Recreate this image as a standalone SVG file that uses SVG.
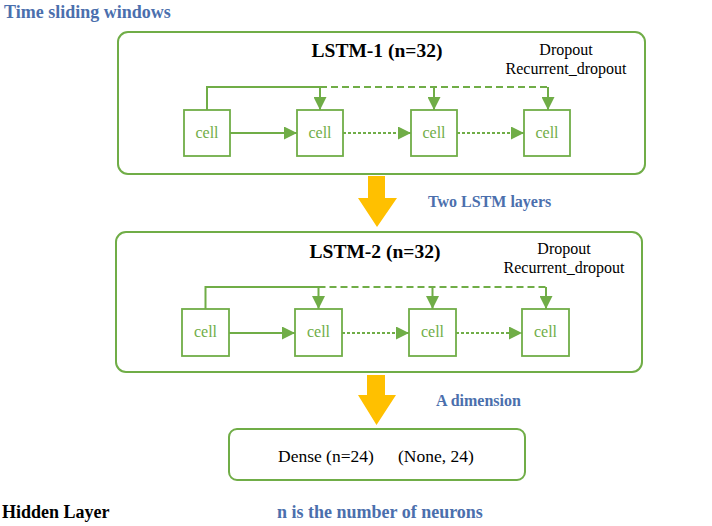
<svg xmlns="http://www.w3.org/2000/svg" width="712" height="526" viewBox="0 0 712 526">
<defs>
<style>
.box{fill:#fff;stroke:#70AD47;stroke-width:2}
.cell rect{fill:#fff;stroke:#70AD47;stroke-width:1.8}
.cell text{font-family:"Liberation Serif",serif;font-size:16px;fill:#70AD47;text-anchor:middle}
.ln{fill:none;stroke:#70AD47;stroke-width:2}
.dash{stroke-dasharray:7,4}
.dot{stroke-dasharray:3,2}
.title{font-family:"Liberation Serif",serif;font-size:19.5px;font-weight:bold;fill:#000;text-anchor:middle}
.note{font-family:"Liberation Serif",serif;font-size:16px;fill:#000;text-anchor:middle}
.blue{font-family:"Liberation Serif",serif;font-weight:bold;fill:#4B6FAD}
.yel{fill:#FFC000}
</style>
<marker id="ah" markerUnits="userSpaceOnUse" markerWidth="13" markerHeight="13" refX="13" refY="6.5" orient="auto" viewBox="0 0 13 13">
<path d="M0,0 L13,6.5 L0,13 z" fill="#70AD47"/>
</marker>
</defs>
<rect width="712" height="526" fill="#fff"/>

<text class="blue" x="4" y="18" font-size="18">Time sliding windows</text>

<g id="lstm1">
<rect class="box" x="118" y="32" width="527" height="142" rx="10"/>
<text class="title" x="377" y="57">LSTM-1 (n=32)</text>
<text class="note" x="566" y="55">Dropout</text>
<text class="note" x="566" y="74">Recurrent_dropout</text>
</g>
<g id="l1c1" class="cell"><rect x="184" y="110" width="46" height="46"/><text x="207" y="138">cell</text></g>
<g id="l1c2" class="cell"><rect x="297" y="110" width="46" height="46"/><text x="320" y="138">cell</text></g>
<g id="l1c3" class="cell"><rect x="411" y="110" width="46" height="46"/><text x="434" y="138">cell</text></g>
<g id="l1c4" class="cell"><rect x="524" y="110" width="46" height="46"/><text x="547" y="138">cell</text></g>

<g id="lstm2">
<rect class="box" x="116" y="232" width="526" height="140" rx="10"/>
<text class="title" x="375" y="258">LSTM-2 (n=32)</text>
<text class="note" x="564" y="254">Dropout</text>
<text class="note" x="564" y="273">Recurrent_dropout</text>
</g>
<g id="l2c1" class="cell"><rect x="182" y="309" width="47" height="47"/><text x="205.5" y="337">cell</text></g>
<g id="l2c2" class="cell"><rect x="295" y="309" width="47" height="47"/><text x="318.5" y="337">cell</text></g>
<g id="l2c3" class="cell"><rect x="409" y="309" width="47" height="47"/><text x="432.5" y="337">cell</text></g>
<g id="l2c4" class="cell"><rect x="522" y="309" width="47" height="47"/><text x="545.5" y="337">cell</text></g>

<g id="dense">
<rect class="box" x="229" y="429" width="296" height="51" rx="8"/>
<text font-family="Liberation Serif,serif" font-size="17.5" x="278" y="462">Dense (n=24)</text>
<text font-family="Liberation Serif,serif" font-size="17.5" x="398" y="462">(None, 24)</text>
</g>

<g id="connectors">
<path class="ln" d="M207,110 V87 H320 V110" marker-end="url(#ah)"/>
<path class="ln dash" d="M320,87 H548"/>
<path class="ln" d="M434,87 V110" marker-end="url(#ah)"/>
<path class="ln" d="M548,87 V110" marker-end="url(#ah)"/>
<path class="ln" d="M230,133 H297" marker-end="url(#ah)"/>
<path class="ln dot" d="M343,133 H411" marker-end="url(#ah)"/>
<path class="ln dot" d="M457,133 H524" marker-end="url(#ah)"/>

<path class="ln" d="M205.5,309 V287 H318.5 V309" marker-end="url(#ah)"/>
<path class="ln dash" d="M318.5,287 H546"/>
<path class="ln" d="M432.5,287 V309" marker-end="url(#ah)"/>
<path class="ln" d="M546,287 V309" marker-end="url(#ah)"/>
<path class="ln" d="M229,333 H295" marker-end="url(#ah)"/>
<path class="ln dot" d="M342,333 H409" marker-end="url(#ah)"/>
<path class="ln dot" d="M456,333 H522" marker-end="url(#ah)"/>

<polygon class="yel" points="368,176 385,176 385,198 397,198 377,227 358,198 368,198"/>
<polygon class="yel" points="367,375 385,375 385,395 396,395 376.5,425 358,395 367,395"/>
</g>

<text class="blue" x="428" y="207" font-size="16">Two LSTM layers</text>
<text class="blue" x="436" y="406" font-size="16">A dimension</text>
<text font-family="Liberation Serif,serif" font-weight="bold" font-size="18" x="2" y="518">Hidden Layer</text>
<text class="blue" x="277" y="518" font-size="18">n is the number of neurons</text>
</svg>
